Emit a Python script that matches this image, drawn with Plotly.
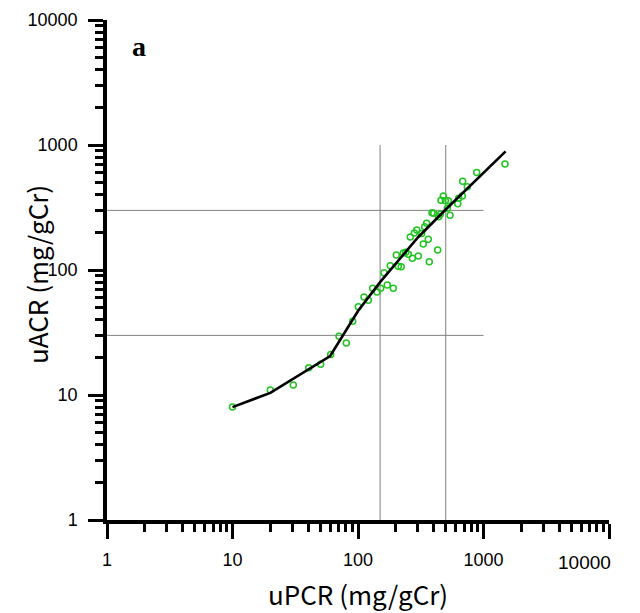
import plotly.graph_objects as go

# scatter data (uPCR, uACR), mg/gCr
upcr = [10, 20, 30.5, 40.5, 50.4, 60.6, 70.6, 80.7, 90.7, 100.6, 111.6, 120.8,
        130.9, 141.7, 151.6, 161, 171, 180.8, 191, 201.9, 209.5, 221, 229.6,
        239.9, 251.8, 261, 271, 281, 293.7, 302.4, 321.7, 331.4, 339.8, 352.3,
        363, 369.8, 388.8, 401, 431.5, 439.5, 453, 458.5, 478.5, 496.6, 524.8,
        515, 541, 623.6, 634.5, 678, 682.6, 742.6, 883, 1484]
uacr = [8, 10.96, 12.0, 16.5, 17.6, 21.1, 29.5, 26.1, 38.9, 50.9, 60.8, 57.2,
        71.3, 66.7, 71.3, 95.1, 75.9, 108.3, 71.3, 131.8, 107, 106.4, 136.8,
        138.4, 133.4, 183.7, 124, 197.7, 208.9, 129.4, 196.3, 161.4, 222.2, 236.3,
        176, 116.6, 287.5, 285, 144.5, 267.2, 278.8, 360.8, 390.8, 358, 358,
        311.4, 273.7, 339.4, 374.4, 390.8, 512, 464, 602.7, 704.7]

# fitted curve
fit_x = [10, 20, 60, 90, 100, 150, 200, 300, 500, 1000, 1500]
fit_y = [8, 10.4, 20.5, 39, 47, 80, 113, 182, 305, 606, 890]

# cut-off lines
pcr_cuts = [150, 500]
acr_cuts = [30, 300]
ref_min = 1
ref_max = 1000

tick_vals = [1, 10, 100, 1000, 10000]
tick_text = ["1", "10", "100", "1000", "10000"]
minor_vals = [k * d for d in [1, 10, 100, 1000] for k in range(2, 10)]

x_title = "uPCR (mg/gCr)"
y_title = "uACR (mg/gCr)"
panel_label = "a"

# last x label is drawn right-aligned at the axis end so it stays inside the page
x_tick_text = tick_text[:-1] + [""]

fig = go.Figure()

for c in pcr_cuts:
    fig.add_trace(go.Scatter(x=[c, c], y=[ref_min, ref_max], mode="lines",
                             line=dict(color="#808080", width=1),
                             showlegend=False, hoverinfo="skip"))
for c in acr_cuts:
    fig.add_trace(go.Scatter(x=[ref_min, ref_max], y=[c, c], mode="lines",
                             line=dict(color="#808080", width=1),
                             showlegend=False, hoverinfo="skip"))

fig.add_trace(go.Scatter(x=upcr, y=uacr, mode="markers",
                         marker=dict(symbol="circle-open", size=6,
                                     color="#22c422", line=dict(width=1.5, color="#22c422")),
                         showlegend=False))
fig.add_trace(go.Scatter(x=fit_x, y=fit_y, mode="lines",
                         line=dict(color="black", width=2.6),
                         showlegend=False))

tick_font = dict(family="Liberation Sans", size=18, color="black")

axis_common = dict(
    type="log", range=[0, 4], automargin=False,
    tickmode="array", tickvals=tick_vals,
    showline=True, linecolor="black", linewidth=3.5,
    ticks="outside", ticklen=15, tickwidth=3, tickcolor="black",
    minor=dict(tickmode="array", tickvals=minor_vals, ticks="outside",
               ticklen=8, tickwidth=3, tickcolor="black", showgrid=False),
    showgrid=False, zeroline=False,
    tickfont=tick_font,
)

title_font = dict(family="Noto Sans CJK JP", size=26, color="black")

fig.update_layout(
    width=640, height=613,
    margin=dict(l=99, r=39, t=12, b=101),
    paper_bgcolor="white", plot_bgcolor="white",
    xaxis=dict(**axis_common, ticktext=x_tick_text, ticklabelstandoff=6),
    yaxis=dict(**axis_common, ticktext=tick_text, ticklabelstandoff=7),
    annotations=[
        dict(text="<b>" + panel_label + "</b>", x=0.045, y=0.948, xref="paper", yref="paper",
             showarrow=False, xanchor="left", yanchor="middle",
             font=dict(family="Liberation Serif", size=28, color="black")),
        dict(text=tick_text[-1], x=1, y=-0.084, xref="paper", yref="paper",
             xshift=4, showarrow=False, xanchor="right", yanchor="middle",
             font=dict(family="Liberation Sans", size=19, color="black")),
        dict(text=x_title, x=0.50, y=-0.146, xref="paper", yref="paper",
             showarrow=False, xanchor="center", yanchor="middle", font=title_font),
        dict(text=y_title, x=-0.1414, y=0.49, xref="paper", yref="paper",
             showarrow=False, xanchor="center", yanchor="middle", textangle=-90,
             font=title_font),
    ],
)

fig.write_html("out.html")
